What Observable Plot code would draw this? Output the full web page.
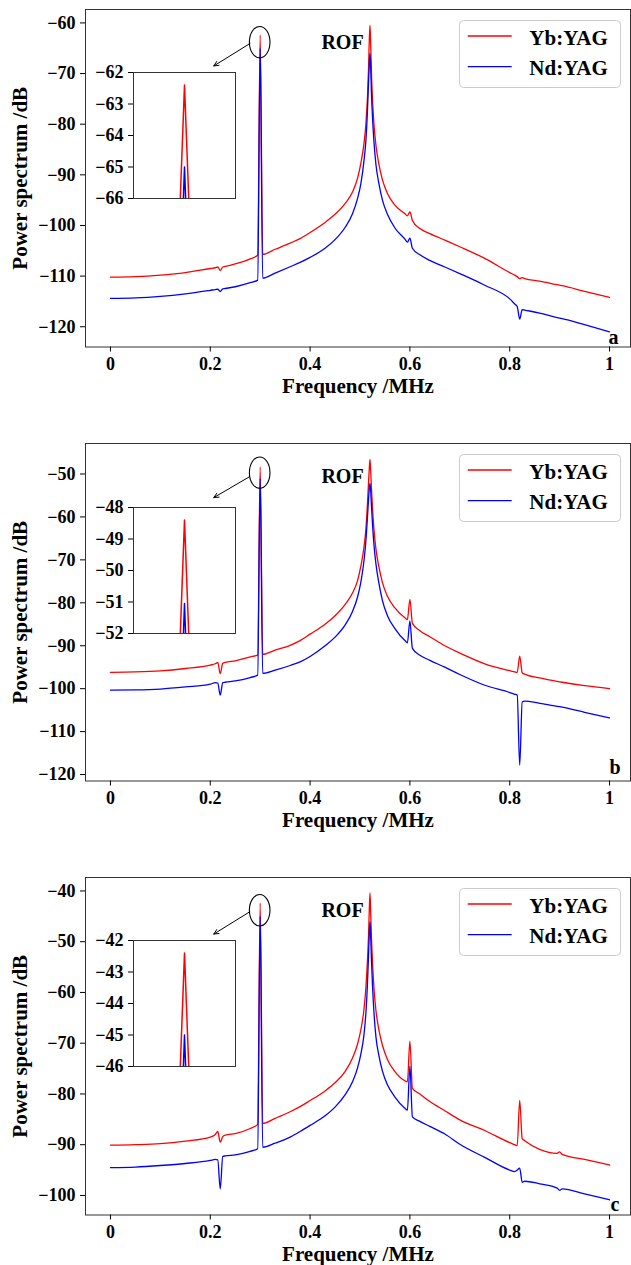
<!DOCTYPE html>
<html><head><meta charset="utf-8">
<script src="https://cdn.jsdelivr.net/npm/d3@7"></script>
<script src="https://cdn.jsdelivr.net/npm/@observablehq/plot@0.6"></script>
<style>
body{margin:0;background:#fff;overflow:hidden}
#wrap{position:relative;width:631px;height:1265px}
.pn{position:absolute;left:0}
.pn svg{overflow:visible}
</style></head><body><div id="wrap"></div><script>
// ---- data ----
const freq = [0,0.05,0.1,0.15,0.2,0.21,0.215,0.22,0.225,0.23,0.25,0.28,0.295,0.3,0.305,0.33,0.36,0.38,0.40,0.43,
  0.45,0.47,0.485,0.495,0.502,0.508,0.512,0.515,0.517,0.5185,0.52,0.5215,0.523,0.525,0.528,0.532,0.538,0.545,0.555,0.57,
  0.59,0.595,0.6,0.605,0.62,0.64,0.67,0.7,0.75,0.8,0.81,0.815,0.82,0.825,0.83,0.86,0.895,0.9,0.905,0.95,1.0];

const ybA = [-110.2,-110.1,-109.8,-109.3,-108.5,-108.35,-108.2,-108.9,-108.2,-108.1,-107.6,-106.6,-105.9,-62.4,-105.7,-104.7,-103.5,-102.6,-101.4,-99.4,
  -97.8,-95.7,-93.4,-90.7,-87.6,-83.8,-79.7,-74.6,-69.3,-63.8,-60.45,-64.5,-70.0,-75.0,-80.0,-84.2,-88.0,-91.0,-93.7,-96.0,
  -97.7,-98.1,-97.3,-99.0,-100.6,-101.6,-102.9,-104.2,-106.5,-109.3,-109.8,-110.1,-110.5,-110.3,-110.5,-111.0,-111.7,-111.8,-111.9,-113.0,-114.2];
const ndA = [-114.4,-114.3,-114.0,-113.5,-112.8,-112.65,-112.6,-113.05,-112.5,-112.45,-112.1,-111.3,-110.8,-65.0,-110.4,-109.4,-108.15,-107.3,-106.3,-104.5,
  -102.8,-100.4,-97.7,-94.7,-91.6,-87.2,-83.0,-77.2,-72.0,-68.5,-66.0,-69.0,-74.0,-78.5,-83.5,-88.0,-91.8,-95.0,-97.8,-100.5,
  -102.7,-103.3,-102.5,-104.5,-105.8,-106.9,-108.2,-109.5,-111.8,-114.5,-115.5,-116.0,-118.5,-116.6,-116.7,-117.3,-118.2,-118.3,-118.4,-119.6,-121.0];

const ybB = [-96.2,-96.1,-95.85,-95.3,-94.5,-94.2,-93.9,-96.5,-94.1,-93.9,-93.5,-92.6,-92.2,-48.4,-92.0,-91.0,-89.9,-88.8,-87.3,-85.0,
  -83.0,-80.4,-77.7,-74.9,-71.3,-67.0,-62.6,-56.8,-52.2,-49.0,-46.6,-49.5,-53.5,-57.8,-63.0,-67.5,-71.7,-75.3,-78.5,-81.2,
  -83.5,-83.9,-79.2,-84.8,-86.5,-87.9,-90.0,-91.7,-94.2,-95.8,-96.1,-96.2,-92.4,-96.3,-96.6,-97.5,-98.3,-98.4,-98.5,-99.3,-100.0];
const ndB = [-100.35,-100.3,-100.1,-99.6,-98.95,-98.6,-98.7,-101.5,-98.6,-98.5,-98.2,-97.4,-96.85,-51.05,-96.45,-95.7,-94.6,-93.75,-92.5,-90.0,
  -88.0,-85.2,-82.0,-78.7,-75.0,-70.2,-65.3,-60.0,-56.1,-53.6,-52.2,-54.0,-57.5,-61.5,-66.5,-71.0,-75.5,-79.5,-83.0,-86.0,
  -88.8,-89.3,-84.2,-90.6,-92.2,-93.4,-95.0,-96.7,-99.2,-100.9,-101.3,-101.5,-117.8,-103.1,-102.9,-103.4,-104.1,-104.2,-104.3,-105.5,-106.8];

const ybC = [-90.1,-90.0,-89.8,-89.3,-88.5,-88.0,-87.4,-89.5,-88.4,-88.1,-87.8,-86.8,-86.0,-42.4,-85.8,-84.8,-83.5,-82.5,-81.3,-79.4,
  -77.8,-75.6,-72.9,-70.2,-67.2,-63.3,-58.8,-53.6,-49.0,-44.2,-40.4,-44.6,-49.3,-54.0,-59.2,-63.6,-67.4,-70.4,-73.2,-75.6,
  -77.4,-77.6,-69.6,-78.9,-80.0,-81.5,-83.3,-85.1,-87.2,-89.6,-90.0,-90.2,-81.25,-88.8,-89.2,-90.9,-91.7,-91.4,-91.9,-92.9,-94.0];
const ndC = [-94.5,-94.4,-94.1,-93.7,-93.1,-92.9,-93.0,-98.7,-92.3,-92.2,-92.0,-91.3,-90.8,-45.0,-90.5,-89.7,-88.5,-87.4,-86.2,-84.3,
  -82.6,-80.2,-77.6,-74.9,-72.0,-68.3,-63.8,-58.2,-53.0,-48.8,-46.05,-49.2,-53.5,-58.5,-64.0,-68.8,-72.5,-75.5,-78.2,-80.6,
  -82.8,-83.2,-74.5,-84.5,-85.4,-86.4,-87.9,-89.9,-92.5,-95.0,-95.3,-95.0,-94.6,-97.4,-97.2,-97.7,-98.55,-99.0,-98.7,-99.7,-100.85];

const xTicks = [0, 0.2, 0.4, 0.6, 0.8, 1];
const xTickLabels = ["0", "0.2", "0.4", "0.6", "0.8", "1"];
const yTicksA = [-120, -110, -100, -90, -80, -70, -60];
const yTicksB = [-120, -110, -100, -90, -80, -70, -60, -50];
const yTicksC = [-100, -90, -80, -70, -60, -50, -40];
const insetTicksA = [-66, -65, -64, -63, -62];
const insetTicksB = [-52, -51, -50, -49, -48];
const insetTicksC = [-46, -45, -44, -43, -42];
const seriesNames = ["Yb:YAG", "Nd:YAG"];
const panelLetters = ["a", "b", "c"];
const xLabel = "Frequency /MHz";
const yLabel = "Power spectrum /dB";
const peakLabel = "ROF";

// ---- layout / styling ----
const FONT = "'Liberation Serif','Times New Roman',Times,serif";
const RED = "#ff0000", BLUE = "#0000ff";
const panelTops = [0, 434.3, 867.7];
const panels = [
  {yb: ybA, nd: ndA, yTicks: yTicksA, yDomain: [-124, -57.35], inset: insetTicksA,
   circleDb: -63.9, arrow: {x1: 0.2796, y1: -64.06, x2: 0.207, y2: -68.5}, letterDx: -12, letterDy: -9.8},
  {yb: ybB, nd: ndB, yTicks: yTicksB, yDomain: [-121.5, -42.9], inset: insetTicksB,
   circleDb: -49.8, arrow: {x1: 0.2792, y1: -50.6, x2: 0.207, y2: -55.5}, letterDx: -10, letterDy: -13.8},
  {yb: ybC, nd: ndC, yTicks: yTicksC, yDomain: [-103.85, -37.35], inset: insetTicksC,
   circleDb: -43.9, arrow: {x1: 0.2792, y1: -44.1, x2: 0.207, y2: -48.5}, letterDx: -11, letterDy: -10.7}
];
const fmt = d3.format("d");
const wrap = document.getElementById("wrap");

panels.forEach((cfg, idx) => {
  const rows = freq.map((f, i) => ({f, yb: cfg.yb[i], nd: cfg.nd[i]}));
  const div = document.createElement("div");
  div.className = "pn";
  div.style.top = panelTops[idx] + "px";
  wrap.appendChild(div);

  const plot = Plot.plot({
    width: 631, height: 396,
    marginLeft: 85, marginRight: 1, marginTop: 9, marginBottom: 49.5,
    style: {fontFamily: FONT, fontSize: "18px", fontWeight: "bold", background: "transparent", color: "black", overflow: "visible"},
    x: {domain: [-0.05, 1.042]},
    y: {domain: cfg.yDomain},
    marks: [
      Plot.frame({stroke: "#333", strokeWidth: 1}),
      Plot.axisX({ticks: xTicks, tickFormat: d => xTickLabels[xTicks.indexOf(d)], tickSize: 5, tickPadding: 5.5, label: null}),
      Plot.axisY({ticks: cfg.yTicks, tickFormat: fmt, tickSize: 5, tickPadding: 5, label: null}),
      Plot.line(rows, {x: "f", y: "yb", stroke: RED, strokeWidth: 1.3, curve: "monotone-x"}),
      Plot.line(rows, {x: "f", y: "nd", stroke: BLUE, strokeWidth: 1.3, curve: "monotone-x"}),
      Plot.arrow([cfg.arrow], {x1: "x1", y1: "y1", x2: "x2", y2: "y2", stroke: "black", strokeWidth: 1, headLength: 8, headAngle: 50}),
      Plot.text([{x: 0.465, t: peakLabel}], {x: "x", text: "t", frameAnchor: "top", lineAnchor: "middle", textAnchor: "middle", dy: 32.7, fontSize: 20}),
      Plot.text([xLabel], {frameAnchor: "bottom", lineAnchor: "middle", textAnchor: "middle", dy: 39, fontSize: 21}),
      Plot.text([yLabel], {frameAnchor: "left", lineAnchor: "middle", textAnchor: "middle", rotate: -90, dx: -65, fontSize: 21}),
      Plot.text([panelLetters[idx]], {frameAnchor: "bottom-right", lineAnchor: "middle", textAnchor: "end", dx: cfg.letterDx, dy: cfg.letterDy, fontSize: 20})
    ]
  });
  div.appendChild(plot);

  const sx = plot.scale("x"), sy = plot.scale("y");
  const svg = d3.select(plot);
  // circle around the side peak
  svg.append("ellipse")
    .attr("cx", sx.apply(0.3)).attr("cy", sy.apply(cfg.circleDb))
    .attr("rx", 10.3).attr("ry", 15.7)
    .attr("fill", "none").attr("stroke", "black").attr("stroke-width", 1.1);
  // legend
  const lg = svg.append("g").attr("font-size", 21).attr("font-family", FONT).attr("font-weight", "bold").attr("text-anchor", "start");
  lg.append("rect").attr("x", 459.5).attr("y", 20.5).attr("width", 161).attr("height", 67).attr("rx", 4)
    .attr("fill", "white").attr("fill-opacity", 0.8).attr("stroke", "#cccccc").attr("stroke-width", 1);
  [RED, BLUE].forEach((c, k) => {
    const yy = 36 + k * 30.7;
    lg.append("line").attr("x1", 467.7).attr("x2", 511.7).attr("y1", yy).attr("y2", yy).attr("stroke", c).attr("stroke-width", 1.3);
    lg.append("text").attr("x", 529.3).attr("y", yy + 8.5).attr("fill", "black").attr("text-anchor", "start").text(seriesNames[k]);
  });

  // inset
  const idiv = document.createElement("div");
  idiv.className = "pn";
  idiv.style.top = (panelTops[idx] + 65.3) + "px";
  idiv.style.left = "78.3px";
  wrap.appendChild(idiv);
  const inset = Plot.plot({
    width: 160, height: 140,
    marginLeft: 55, marginRight: 3, marginTop: 7, marginBottom: 7,
    style: {fontFamily: FONT, fontSize: "18px", fontWeight: "bold", background: "transparent", color: "black", overflow: "visible"},
    x: {domain: [0.295, 0.305], axis: null},
    y: {domain: [cfg.inset[0], cfg.inset[cfg.inset.length - 1]], axis: null},
    marks: [
      Plot.frame({fill: "white", stroke: "#333", strokeWidth: 1}),
      Plot.axisY({ticks: cfg.inset, tickFormat: fmt, tickSize: 5, tickPadding: 5, label: null}),
      Plot.line(rows, {x: "f", y: "yb", stroke: RED, strokeWidth: 1.5, clip: true}),
      Plot.line(rows, {x: "f", y: "nd", stroke: BLUE, strokeWidth: 1.5, clip: true})
    ]
  });
  idiv.appendChild(inset);
});
</script></body></html>
